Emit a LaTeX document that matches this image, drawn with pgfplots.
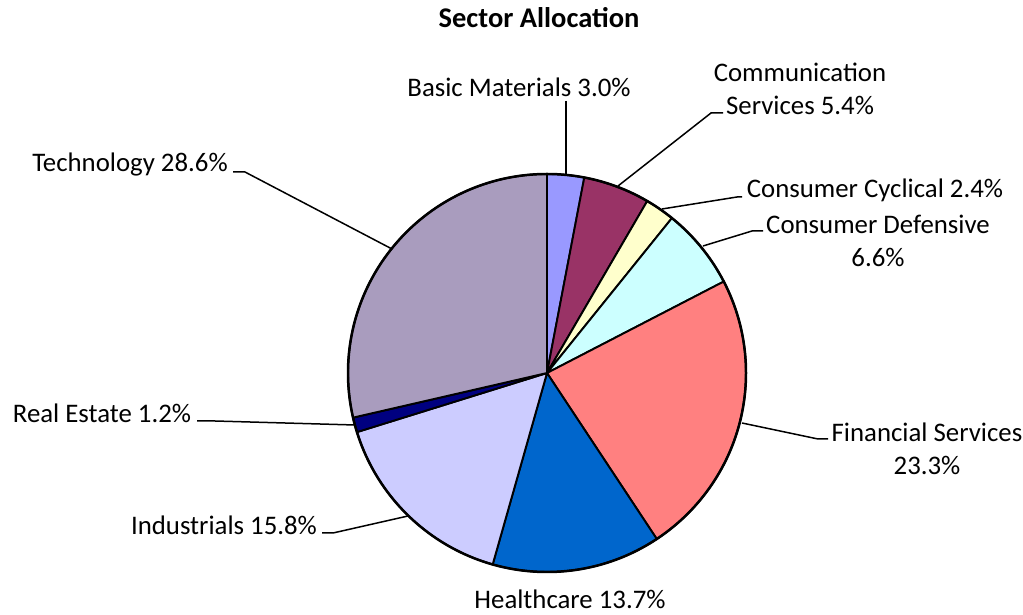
\documentclass[border=0pt]{standalone}
\usepackage{pgfplots}
\pgfplotsset{compat=1.18}
\usepackage{fontspec}
\setmainfont{Carlito}
\definecolor{cBM}{RGB}{153,153,255}
\definecolor{cCS}{RGB}{153,51,102}
\definecolor{cCC}{RGB}{255,255,204}
\definecolor{cCD}{RGB}{204,255,255}
\definecolor{cFS}{RGB}{255,128,128}
\definecolor{cHC}{RGB}{0,102,204}
\definecolor{cIN}{RGB}{204,204,255}
\definecolor{cRE}{RGB}{0,0,128}
\definecolor{cTE}{RGB}{169,156,190}
% slice: colour, cumulative start %, cumulative end %
\newcommand{\slice}[3]{%
  \filldraw[fill=#1,draw=black,line width=1.9pt,line join=round]
    (axis cs:547,242) -- ++({90-3.6*#2}:199pt)
    arc[start angle={90-3.6*#2}, end angle={90-3.6*#3}, radius=199pt] -- cycle;}
\begin{document}
\begin{tikzpicture}
\begin{axis}[
  scale only axis, width=1023pt, height=615pt,
  xmin=0, xmax=1023, ymin=0, ymax=615,
  hide axis, clip=false,
]
% values (percent): BM 3.0, CS 5.4, CC 2.4, CD 6.6, FS 23.3, HC 13.7, IN 15.8, RE 1.2, TE 28.6
\slice{cBM}{0}{3.0}
\slice{cCS}{3.0}{8.4}
\slice{cCC}{8.4}{10.8}
\slice{cCD}{10.8}{17.4}
\slice{cFS}{17.4}{40.7}
\slice{cHC}{40.7}{54.4}
\slice{cIN}{54.4}{70.2}
\slice{cRE}{70.2}{71.4}
\slice{cTE}{71.4}{100}
\draw[line width=2.5pt] (axis cs:547,242) circle[radius=199pt];
% leader lines
\addplot[black, line width=1.5pt] coordinates {(566,514) (566,440)};
\addplot[black, line width=1.5pt] coordinates {(723,502) (711,502) (618,429)};
\addplot[black, line width=1.5pt] coordinates {(742,418) (737,418) (662,406)};
\addplot[black, line width=1.5pt] coordinates {(763,384) (752,384) (703,369)};
\addplot[black, line width=1.5pt] coordinates {(828,176) (818,176) (742,192)};
\addplot[black, line width=1.5pt] coordinates {(322,82) (333,82) (408,99)};
\addplot[black, line width=1.5pt] coordinates {(197,194) (215,194) (355,190)};
\addplot[black, line width=1.5pt] coordinates {(233,443) (245,443) (392,366)};
% labels
\def\lf{\fontsize{26.8}{33}\selectfont}
\tikzset{every node/.append style={inner sep=0pt}}
\node[font=\fontsize{28.5}{33}\selectfont\bfseries] at (axis cs:539,597) {Sector Allocation};
\node[font=\lf] at (axis cs:519,528) {Basic Materials 3.0\%};
\node[font=\lf,align=center] at (axis cs:800,526) {Communication\\Services 5.4\%};
\node[font=\lf] at (axis cs:875,425) {Consumer Cyclical 2.4\%};
\node[font=\lf,align=center] at (axis cs:878,374) {Consumer Defensive\\6.6\%};
\node[font=\lf,align=center] at (axis cs:927,166) {Financial Services\\23.3\%};
\node[font=\lf] at (axis cs:570,16) {Healthcare 13.7\%};
\node[font=\lf] at (axis cs:224,90) {Industrials 15.8\%};
\node[font=\lf] at (axis cs:102,202) {Real Estate 1.2\%};
\node[font=\lf] at (axis cs:130,450) {Technology 28.6\%};
\end{axis}
\pgfresetboundingbox
\path[use as bounding box] (current axis.south west) rectangle (current axis.north east);
\end{tikzpicture}
\end{document}
